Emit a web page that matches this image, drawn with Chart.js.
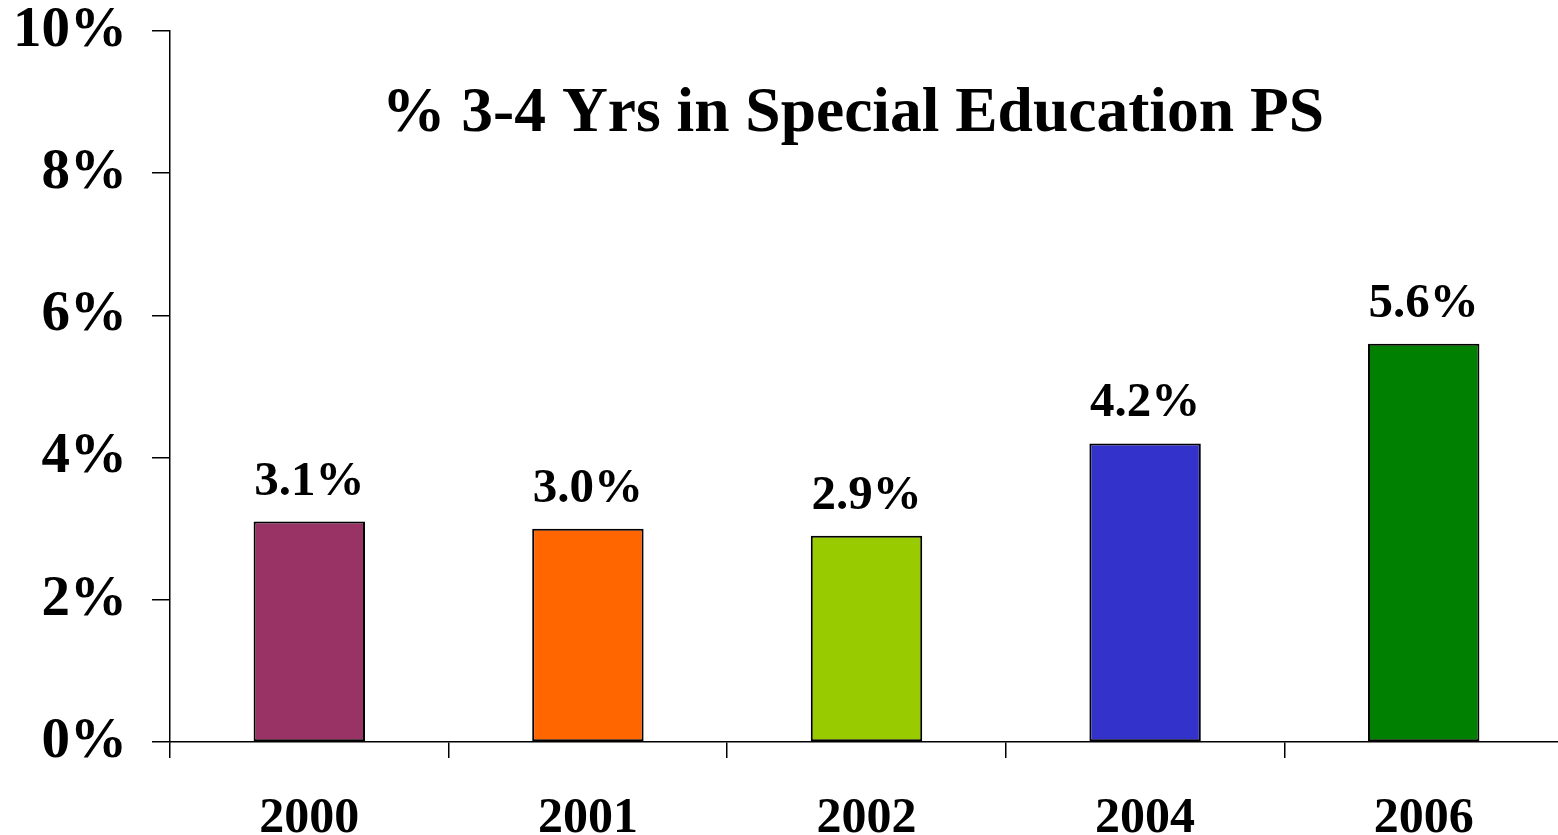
<!DOCTYPE html>
<html>
<head>
<meta charset="utf-8">
<script src="https://cdn.jsdelivr.net/npm/chart.js@4/dist/chart.umd.min.js"></script>
<style>
  html, body { margin: 0; padding: 0; background: #fff; overflow: hidden; }
  #wrap { width: 1563px; height: 835px; }
</style>
</head>
<body>
<div id="wrap"><canvas id="chart"></canvas></div>
<script>
// chart data
var years = ['2000', '2001', '2002', '2004', '2006'];
var percentValues = [3.1, 3.0, 2.9, 4.2, 5.6];
var barColors = ['#993366', '#FF6600', '#99CC00', '#3333CC', '#008000'];
var yTickValues = [0, 2, 4, 6, 8, 10];
var chartTitle = '% 3-4 Yrs in Special Education PS';

var serif = '"Liberation Serif", "Times New Roman", serif';

// title sits inside the plot, so draw it ourselves
var titlePlugin = {
  id: 'insideTitle',
  afterDraw: function(chart) {
    var ctx = chart.ctx;
    ctx.save();
    ctx.font = 'bold 63.5px ' + serif;
    ctx.fillStyle = '#000';
    ctx.textAlign = 'center';
    ctx.textBaseline = 'alphabetic';
    ctx.fillText(chartTitle, 853, 131);
    ctx.restore();
  }
};

var valueLabels = {
  id: 'valueLabels',
  afterDatasetsDraw: function(chart) {
    var ctx = chart.ctx;
    var meta = chart.getDatasetMeta(0);
    ctx.save();
    ctx.font = 'bold 49px ' + serif;
    ctx.fillStyle = '#000';
    ctx.textAlign = 'center';
    ctx.textBaseline = 'alphabetic';
    meta.data.forEach(function(bar, i) {
      ctx.fillText(percentValues[i].toFixed(1) + '%', bar.x, bar.y - 27);
    });
    ctx.restore();
  }
};

new Chart(document.getElementById('chart'), {
  type: 'bar',
  data: {
    labels: years,
    datasets: [{
      data: percentValues,
      backgroundColor: barColors,
      borderColor: '#000',
      borderWidth: 2,
      borderSkipped: false,
      barPercentage: 0.4,
      categoryPercentage: 1.0
    }]
  },
  options: {
    responsive: true,
    maintainAspectRatio: false,
    animation: false,
    layout: { padding: { top: 31, right: 0, left: 0, bottom: 0 } },
    plugins: {
      legend: { display: false },
      tooltip: { enabled: false }
    },
    scales: {
      x: {
        offset: true,
        grid: {
          offset: true,
          drawOnChartArea: false,
          drawTicks: true,
          tickLength: 16,
          color: '#000',
          lineWidth: 1.5
        },
        border: { color: '#000', width: 1.5 },
        ticks: {
          color: '#000',
          font: { family: serif, size: 50, weight: 'bold' },
          padding: 31,
          maxRotation: 0
        },
        afterFit: function(scale) { scale.height = 93; }
      },
      y: {
        min: 0,
        max: 10,
        afterBuildTicks: function(scale) {
          scale.ticks = yTickValues.map(function(v) { return { value: v }; });
        },
        grid: {
          drawOnChartArea: false,
          drawTicks: true,
          tickLength: 18,
          color: '#000',
          lineWidth: 1.5
        },
        border: { color: '#000', width: 1.5 },
        ticks: {
          color: '#000',
          font: { family: serif, size: 57, weight: 'bold' },
          padding: 25,
          callback: function(v) { return v + '%'; }
        },
        afterFit: function(scale) {
          scale.width = 170;
          scale.paddingTop = 0;
          scale.paddingBottom = 0;
        }
      }
    }
  },
  plugins: [titlePlugin, valueLabels]
});
</script>
</body>
</html>
